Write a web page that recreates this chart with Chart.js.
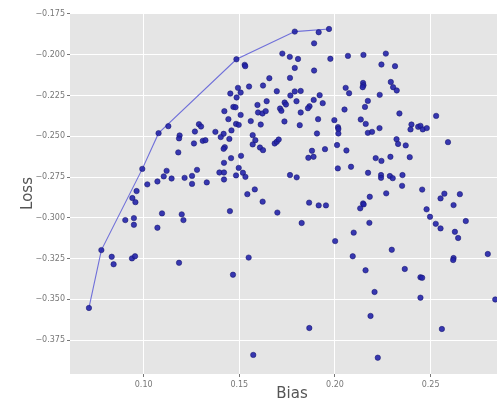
<!DOCTYPE html>
<html>
<head>
<meta charset="utf-8">
<script src="https://cdn.jsdelivr.net/npm/chart.js@4.4.1/dist/chart.umd.min.js"></script>
<style>
    body { margin: 0; background: #fff; overflow: hidden; }
    #wrap { width: 520px; height: 403px; position: relative; }
</style>
</head>
<body>
<div id="wrap"><canvas id="chartContainer"></canvas></div>
<script>
// all candidate points (bias, loss)
const biasValues = [
    0.1129, 0.1188, 0.1185, 0.1181, 0.1120, 0.1105, 0.1146, 0.1072, 0.1019, 0.0963,
    0.0941, 0.0957, 0.0904, 0.0949, 0.0949, 0.1096, 0.1072, 0.0833, 0.0843, 0.0939,
    0.0955, 0.1185,
    0.1528, 0.1531, 0.1725, 0.1657, 0.1551, 0.1493, 0.1507, 0.1453, 0.1486, 0.1624,
    0.1696, 0.1643, 0.1595, 0.1469, 0.1480, 0.1422, 0.1598, 0.1621, 0.1638, 0.1713,
    0.1720, 0.1507, 0.1443, 0.1560, 0.1736, 0.1483, 0.1497, 0.1612, 0.1289, 0.1300,
    0.1268, 0.1375, 0.1418, 0.1459, 0.1403, 0.1448, 0.1570, 0.1584, 0.1570, 0.1263,
    0.1309, 0.1323, 0.1424, 0.1418, 0.1608, 0.1624, 0.1685, 0.1696, 0.1706, 0.1509,
    0.1457, 0.1420, 0.1279, 0.1497, 0.1519, 0.1532, 0.1396, 0.1420, 0.1483, 0.1420,
    0.1214, 0.1253, 0.1253, 0.1330, 0.1542, 0.1581, 0.1622, 0.1451, 0.1199, 0.1208,
    0.1699, 0.1549, 0.1467, 0.1573,
    0.1915, 0.1891, 0.1764, 0.1807, 0.1976, 0.2068, 0.2149, 0.2243, 0.1790, 0.1891,
    0.1765, 0.2147, 0.2149, 0.2145, 0.2056, 0.2074, 0.1790, 0.1821, 0.1767, 0.1920,
    0.2234, 0.2172, 0.1889, 0.1799, 0.1936, 0.1737, 0.1744, 0.2157, 0.1867, 0.1859,
    0.2050, 0.1821, 0.1912, 0.1997, 0.2135, 0.2161, 0.1816, 0.2016, 0.2018, 0.2233,
    0.2172, 0.2194, 0.2018, 0.1906, 0.2011, 0.1948, 0.1880, 0.2060, 0.1861, 0.1888,
    0.2213, 0.2243, 0.2015, 0.2084, 0.2173, 0.2241, 0.2241, 0.1765, 0.1800, 0.2182,
    0.1865, 0.1915, 0.1953, 0.2147, 0.2150, 0.2132, 0.1826, 0.2180, 0.2098, 0.2001,
    0.2093, 0.2160, 0.2207, 0.2186, 0.1866, 0.2224,
    0.2266, 0.2314, 0.2292, 0.2304, 0.2323, 0.2337, 0.2529, 0.2400, 0.2395, 0.2435,
    0.2447, 0.2459, 0.2480, 0.2322, 0.2330, 0.2370, 0.2591, 0.2290, 0.2391, 0.2287,
    0.2302, 0.2353, 0.2351, 0.2456, 0.2268, 0.2572, 0.2653, 0.2552, 0.2620, 0.2479,
    0.2497, 0.2684, 0.2527, 0.2552, 0.2627, 0.2644, 0.2297, 0.2799, 0.2620, 0.2618,
    0.2365, 0.2447, 0.2456, 0.2447, 0.2838, 0.2559
];
const lossValues = [
    -0.2438, -0.2495, -0.2513, -0.2599, -0.2712, -0.2746, -0.2759, -0.2777, -0.2795, -0.2836,
    -0.2879, -0.2904, -0.3014, -0.3002, -0.3043, -0.2973, -0.3061, -0.3239, -0.3285, -0.3249,
    -0.3236, -0.3276,
    -0.2062, -0.2070, -0.1993, -0.2144, -0.2195, -0.2203, -0.2232, -0.2238, -0.2262, -0.2189,
    -0.2224, -0.2285, -0.2308, -0.2320, -0.2322, -0.2346, -0.2354, -0.2360, -0.2346, -0.2330,
    -0.2344, -0.2369, -0.2395, -0.2407, -0.2409, -0.2424, -0.2430, -0.2428, -0.2426, -0.2440,
    -0.2471, -0.2473, -0.2485, -0.2464, -0.2505, -0.2516, -0.2493, -0.2524, -0.2550, -0.2544,
    -0.2528, -0.2524, -0.2567, -0.2577, -0.2569, -0.2585, -0.2544, -0.2534, -0.2520, -0.2620,
    -0.2634, -0.2663, -0.2706, -0.2694, -0.2724, -0.2749, -0.2722, -0.2722, -0.2740, -0.2765,
    -0.2755, -0.2743, -0.2792, -0.2783, -0.2855, -0.2826, -0.2901, -0.2959, -0.2979, -0.3014,
    -0.2968, -0.3244, -0.3349, -0.3841,
    -0.1862, -0.1930, -0.2013, -0.2026, -0.2025, -0.2007, -0.2001, -0.2060, -0.2081, -0.2097,
    -0.2142, -0.2173, -0.2187, -0.2199, -0.2203, -0.2236, -0.2225, -0.2222, -0.2250, -0.2248,
    -0.2246, -0.2283, -0.2277, -0.2285, -0.2297, -0.2293, -0.2305, -0.2320, -0.2316, -0.2328,
    -0.2336, -0.2354, -0.2395, -0.2401, -0.2397, -0.2424, -0.2432, -0.2444, -0.2455, -0.2450,
    -0.2479, -0.2473, -0.2483, -0.2483, -0.2554, -0.2579, -0.2589, -0.2587, -0.2632, -0.2626,
    -0.2634, -0.2651, -0.2697, -0.2687, -0.2724, -0.2738, -0.2755, -0.2738, -0.2752, -0.2871,
    -0.2907, -0.2924, -0.2924, -0.2912, -0.2918, -0.2942, -0.3032, -0.3031, -0.3091, -0.3143,
    -0.3236, -0.3322, -0.3455, -0.3602, -0.3676, -0.3858,
    -0.1993, -0.2070, -0.2167, -0.2199, -0.2219, -0.2360, -0.2375, -0.2428, -0.2458, -0.2442,
    -0.2436, -0.2458, -0.2450, -0.2518, -0.2547, -0.2556, -0.2536, -0.2626, -0.2628, -0.2744,
    -0.2757, -0.2738, -0.2804, -0.2827, -0.2850, -0.2852, -0.2855, -0.2881, -0.2922, -0.2948,
    -0.2994, -0.3020, -0.3037, -0.3065, -0.3086, -0.3124, -0.3196, -0.3222, -0.3247, -0.3259,
    -0.3314, -0.3365, -0.3368, -0.3490, -0.3501, -0.3682
];

// front points, joined by the line
const frontBias = [0.0714, 0.0779, 0.0993, 0.1078, 0.1485, 0.1790, 0.1969];
const frontLoss = [-0.3553, -0.3198, -0.2700, -0.2481, -0.2028, -0.1858, -0.1842];

const xTickValues = [0.10, 0.15, 0.20, 0.25];
const yTickValues = [-0.375, -0.350, -0.325, -0.300, -0.275, -0.250, -0.225, -0.200, -0.175];

let points = [];
for (var i = 0; i < biasValues.length; i++) {
    points.push({ x: biasValues[i], y: lossValues[i] });
}
let front = [];
for (var j = 0; j < frontBias.length; j++) {
    front.push({ x: frontBias[j], y: frontLoss[j] });
}

// grey panel behind the plot, like ggplot style
const panelBg = {
    id: 'panelBg',
    beforeDraw(chart) {
        const c = chart.ctx;
        const a = chart.chartArea;
        c.save();
        c.fillStyle = '#ffffff';
        c.fillRect(0, 0, chart.width, chart.height);
        c.fillStyle = '#e5e5e5';
        c.fillRect(a.left, a.top, a.right - a.left, a.bottom - a.top);
        c.restore();
    }
};

const tickFont = { family: 'DejaVu Sans', size: 8 };
const titleFont = { family: 'DejaVu Sans', size: 15 };

var ctx = document.getElementById('chartContainer').getContext('2d');
window.myScatter = new Chart(ctx, {
    type: 'scatter',
    data: {
        datasets: [{
            data: points.concat(front),
            backgroundColor: 'rgba(35,35,170,0.9)',
            borderColor: 'rgba(20,20,110,0.9)',
            borderWidth: 0.6,
            pointRadius: 2.7
        }, {
            data: front,
            showLine: true,
            borderColor: 'rgba(90,90,215,0.85)',
            borderWidth: 1.1,
            pointRadius: 0
        }]
    },
    options: {
        responsive: true,
        maintainAspectRatio: false,
        animation: false,
        layout: { padding: { top: 13, right: 6, left: 0, bottom: 0 } },
        plugins: {
            legend: { display: false },
            tooltip: { enabled: false }
        },
        scales: {
            x: {
                type: 'linear',
                min: 0.0615,
                max: 0.2936,
                afterBuildTicks: function(axis) {
                    axis.ticks = xTickValues.map(v => ({ value: v }));
                },
                afterFit: function(axis) { axis.height = 29; },
                grid: { color: '#ffffff', lineWidth: 1, tickLength: 3, tickColor: '#777' },
                border: { display: false },
                ticks: {
                    font: tickFont,
                    color: '#777',
                    padding: 3,
                    maxRotation: 0,
                    callback: function(value) { return value.toFixed(2); }
                },
                title: {
                    display: true,
                    text: 'Bias',
                    font: titleFont,
                    color: '#555',
                    padding: { top: 0, bottom: 0 }
                }
            },
            y: {
                type: 'linear',
                min: -0.3958,
                max: -0.1744,
                afterBuildTicks: function(axis) {
                    axis.ticks = yTickValues.map(v => ({ value: v }));
                },
                afterFit: function(axis) { axis.width = 70; },
                grid: { color: '#ffffff', lineWidth: 1, tickLength: 3, tickColor: '#777' },
                border: { display: false },
                ticks: {
                    font: tickFont,
                    color: '#777',
                    padding: 2,
                    callback: function(value) { return value.toFixed(3).replace('-', '\u2212'); }
                },
                title: {
                    display: true,
                    text: 'Loss',
                    font: titleFont,
                    color: '#555',
                    padding: { top: 19, bottom: 0 }
                }
            }
        }
    },
    plugins: [panelBg]
});
</script>
</body>
</html>
